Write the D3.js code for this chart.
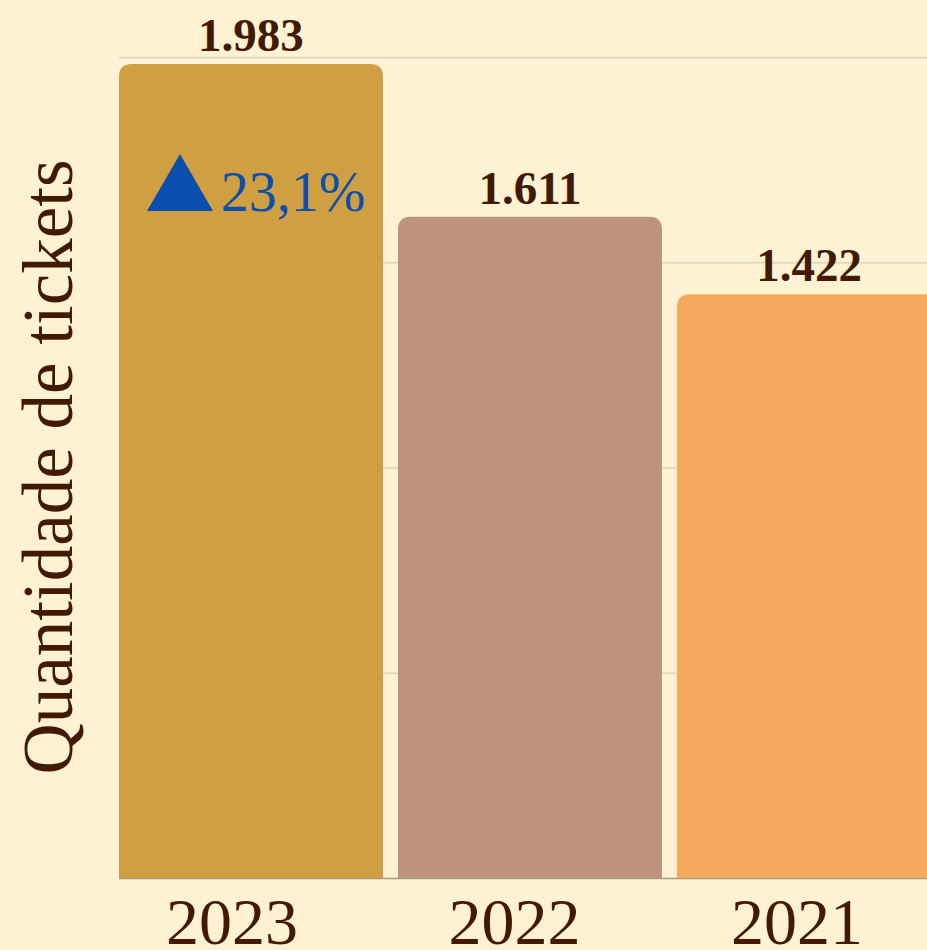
<!DOCTYPE html>
<html>
<head>
<meta charset="utf-8">
<script src="https://cdn.jsdelivr.net/npm/d3@7"></script>
<style>
  html, body { margin: 0; padding: 0; background: #fef2d2; }
  svg { display: block; }
</style>
</head>
<body>
<svg width="927" height="950"></svg>
<script>
let years = ["2023", "2022", "2021"];
let tickets = [1983, 1611, 1422];
let gridTicks = [0, 500, 1000, 1500, 2000];
let barColors = ["#cf9f41", "#bd937b", "#f5a95d"];
let textColor = "#421a04";
let blue = "#0a4fb0";

var svg = d3.select("svg"),
    width = +svg.attr("width"),
    height = +svg.attr("height");

var x = d3.scaleBand()
    .domain(years)
    .range([119, 941])
    .paddingInner(0.0538);

// year labels sit slightly left of the bar centres in the original
var xLabel = d3.scalePoint()
    .domain(years)
    .range([232, 797]);

var y = d3.scaleLinear()
    .domain([0, 2000])
    .range([878, 57]);

// grid
svg.append("g")
    .selectAll("line")
    .data(gridTicks)
    .enter().append("line")
    .attr("x1", 119)
    .attr("x2", width)
    .attr("y1", d => y(d) + 0.5)
    .attr("y2", d => y(d) + 0.5)
    .style("stroke", d => d === 0 ? "#a99a86" : "#ded3b6")
    .style("stroke-width", 1.5);

// bars with rounded top corners
function barPath(x0, y0, w, h, r) {
    return "M" + x0 + "," + (y0 + h) +
        "V" + (y0 + r) +
        "Q" + x0 + "," + y0 + " " + (x0 + r) + "," + y0 +
        "H" + (x0 + w - r) +
        "Q" + (x0 + w) + "," + y0 + " " + (x0 + w) + "," + (y0 + r) +
        "V" + (y0 + h) + "Z";
}

var data = years.map((yr, i) => ({ year: yr, value: tickets[i], color: barColors[i] }));

svg.append("g")
    .selectAll("path")
    .data(data)
    .enter().append("path")
    .attr("d", d => barPath(x(d.year), y(d.value), x.bandwidth(), y(0) - y(d.value), 13))
    .attr("fill", d => d.color);

// value labels
svg.append("g")
    .selectAll("text")
    .data(data)
    .enter().append("text")
    .attr("x", d => x(d.year) + x.bandwidth() / 2)
    .attr("y", d => y(d.value) - 13)
    .attr("text-anchor", "middle")
    .style("font-family", "'Liberation Serif', serif")
    .style("font-weight", "bold")
    .style("font-size", "47px")
    .style("fill", textColor)
    .text(d => d3.format(",")(d.value).replace(",", "."));

// x axis labels
svg.append("g")
    .selectAll("text")
    .data(years)
    .enter().append("text")
    .attr("x", d => xLabel(d))
    .attr("y", 944)
    .attr("text-anchor", "middle")
    .style("font-family", "'Liberation Serif', serif")
    .style("font-size", "66px")
    .style("fill", textColor)
    .text(d => d);

// y title
svg.append("text")
    .attr("transform", "translate(72," + 467 + ") rotate(-90)")
    .attr("text-anchor", "middle")
    .style("font-family", "'Liberation Serif', serif")
    .style("font-size", "71px")
    .style("fill", textColor)
    .text("Quantidade de tickets");

// growth marker
var growth = (tickets[0] - tickets[1]) / tickets[1] * 100;
var gx = x(years[0]) + 28, gy = y(tickets[0]) + 147;

svg.append("path")
    .attr("d", d3.symbol().type(d3.symbolTriangle).size(1886)())
    .attr("transform", "translate(" + (gx + 33) + "," + (gy - 19) + ")")
    .attr("fill", blue);

svg.append("text")
    .attr("x", gx + 74)
    .attr("y", gy)
    .style("font-family", "'Liberation Serif', serif")
    .style("font-size", "56px")
    .style("fill", blue)
    .text(growth.toFixed(1).replace(".", ",") + "%");
</script>
</body>
</html>
